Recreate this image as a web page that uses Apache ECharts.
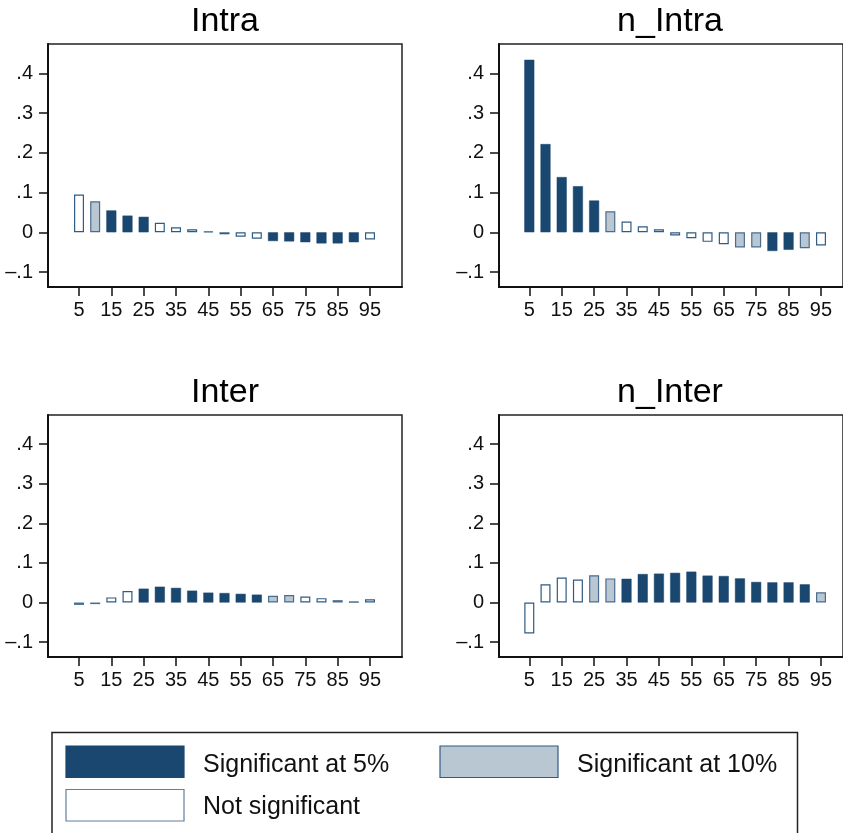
<!DOCTYPE html>
<html>
<head>
<meta charset="utf-8">
<script src="https://cdn.jsdelivr.net/npm/echarts@6/dist/echarts.min.js"></script>
<style>
html,body{margin:0;padding:0;background:#fff;}
#chart{width:843px;height:833px;}
</style>
</head>
<body>
<div id="chart"></div>
<script>
// ---- data ----
const xValues = [5,10,15,20,25,30,35,40,45,50,55,60,65,70,75,80,85,90,95];
const xTickValues = [5,15,25,35,45,55,65,75,85,95];
const yTickValues = [-0.1,0,0.1,0.2,0.3,0.4];
const yTickLabels = ['\u2013.1','0','.1','.2','.3','.4'];
const panelTitles = ['Intra','n_Intra','Inter','n_Inter'];

// significance: 2 = 5%, 1 = 10%, 0 = not significant
const intraValues = [0.095,0.078,0.055,0.042,0.039,0.024,0.0125,0.0075,0.002,-0.005,-0.011,-0.016,-0.022,-0.023,-0.025,-0.028,-0.028,-0.025,-0.018];
const intraSig    = [0,1,2,2,2,0,0,0,0,0,0,0,2,2,2,2,2,2,0];

const nIntraValues = [0.434,0.222,0.139,0.116,0.080,0.053,0.027,0.015,0.0075,-0.008,-0.015,-0.024,-0.030,-0.038,-0.038,-0.047,-0.044,-0.040,-0.033];
const nIntraSig    = [2,2,2,2,2,1,0,0,0,0,0,0,0,1,1,2,2,1,0];

const interValues = [-0.006,-0.004,0.013,0.029,0.035,0.040,0.037,0.030,0.025,0.024,0.022,0.020,0.017,0.019,0.015,0.011,0.006,0.0025,0.008];
const interSig    = [1,1,0,0,2,2,2,2,2,2,2,2,1,1,0,0,1,2,0];

const nInterValues = [-0.078,0.046,0.063,0.058,0.069,0.061,0.060,0.072,0.073,0.075,0.078,0.068,0.067,0.061,0.052,0.051,0.051,0.046,0.026];
const nInterSig    = [0,0,0,0,1,1,2,2,2,2,2,2,2,2,2,2,2,2,1];

const legendLabels = ['Significant at 5%','Significant at 10%','Not significant'];

// ---- styles ----
const DARK = '#1a476f';
const LIGHT = '#b9c7d3';
const FONT = '"Liberation Sans", Arial, Helvetica, sans-serif';
function styleFor(s){
  if (s === 2) return {color: DARK, borderColor: DARK, borderWidth: 0.5};
  if (s === 1) return {color: LIGHT, borderColor: '#4a6d8f', borderWidth: 1.2};
  return {color: '#ffffff', borderColor: '#2f5b84', borderWidth: 1.2};
}

const panels = [
  {vals: intraValues,  sig: intraSig,  left: 48,  top: 44,  width: 354, height: 243, xmin: -4.59, xmax: 104.9, tx: 225},
  {vals: nIntraValues, sig: nIntraSig, left: 499, top: 44,  width: 344, height: 243, xmin: -4.35, xmax: 101.79, tx: 670},
  {vals: interValues,  sig: interSig,  left: 48,  top: 415, width: 354, height: 242, xmin: -4.59, xmax: 104.9, tx: 225},
  {vals: nInterValues, sig: nInterSig, left: 499, top: 415, width: 344, height: 242, xmin: -4.35, xmax: 101.79, tx: 670}
];

const grid = [], xAxis = [], yAxis = [], series = [], graphic = [];
panels.forEach((p, i) => {
  grid.push({left: p.left, top: p.top, width: p.width, height: p.height,
    show: true, borderColor: '#222', borderWidth: 1.5, backgroundColor: '#fff', containLabel: false});
  xAxis.push({type: 'value', gridIndex: i, min: p.xmin, max: p.xmax,
    splitLine: {show: false},
    axisLine: {show: true, onZero: false, lineStyle: {color: '#111', width: 2}},
    axisTick: {show: true, length: 9, inside: false, customValues: xTickValues, lineStyle: {color: '#111', width: 1.5}},
    axisLabel: {show: true, customValues: xTickValues, margin: 13, color: '#111', fontSize: 20, fontFamily: FONT}
  });
  yAxis.push({type: 'value', gridIndex: i, min: -0.1376, max: 0.4737,
    splitLine: {show: false},
    axisLine: {show: true, onZero: false, lineStyle: {color: '#111', width: 2}},
    axisTick: {show: true, length: 9, inside: false, customValues: yTickValues, lineStyle: {color: '#111', width: 1.5}},
    axisLabel: {show: true, customValues: yTickValues, margin: 15, color: '#111', fontSize: 20, fontFamily: FONT,
      formatter: v => {
        const k = yTickValues.findIndex(t => Math.abs(t - v) < 1e-6);
        return k >= 0 ? yTickLabels[k] : '';
      }}
  });
  series.push({type: 'bar', xAxisIndex: i, yAxisIndex: i, barWidth: 10, silent: true,
    data: xValues.map((x, j) => ({value: [x, p.vals[j]], itemStyle: styleFor(p.sig[j])}))
  });
  graphic.push({type: 'text', x: p.tx, y: p.top - 22.5,
    style: {text: panelTitles[i], fontSize: 34, fontFamily: FONT, fill: '#000', textAlign: 'center', textVerticalAlign: 'middle'}});
});

// legend box
graphic.push({type: 'rect', shape: {x: 52, y: 732.5, width: 745.5, height: 110},
  style: {fill: '#fff', stroke: '#222', lineWidth: 1.5}, z: 10});
const keys = [
  {x: 66, y: 746, fill: DARK,   stroke: DARK,      tx: 203, ty: 765},
  {x: 440, y: 746, fill: LIGHT, stroke: '#2f5b84', tx: 577, ty: 765},
  {x: 66, y: 789.5, fill: '#fff', stroke: '#5f7f9f', tx: 203, ty: 807.5}
];
keys.forEach((k, i) => {
  graphic.push({type: 'rect', shape: {x: k.x, y: k.y, width: 118, height: 31.5},
    style: {fill: k.fill, stroke: k.stroke, lineWidth: 1.2}, z: 11});
  graphic.push({type: 'text', x: k.tx, y: k.ty, z: 11,
    style: {text: legendLabels[i], fontSize: 25, fontFamily: FONT, fill: '#111', textAlign: 'left', textVerticalAlign: 'middle'}});
});

const chart = echarts.init(document.getElementById('chart'), null, {renderer: 'canvas'});
chart.setOption({
  animation: false,
  backgroundColor: '#fff',
  grid, xAxis, yAxis, series, graphic
});
</script>
</body>
</html>
